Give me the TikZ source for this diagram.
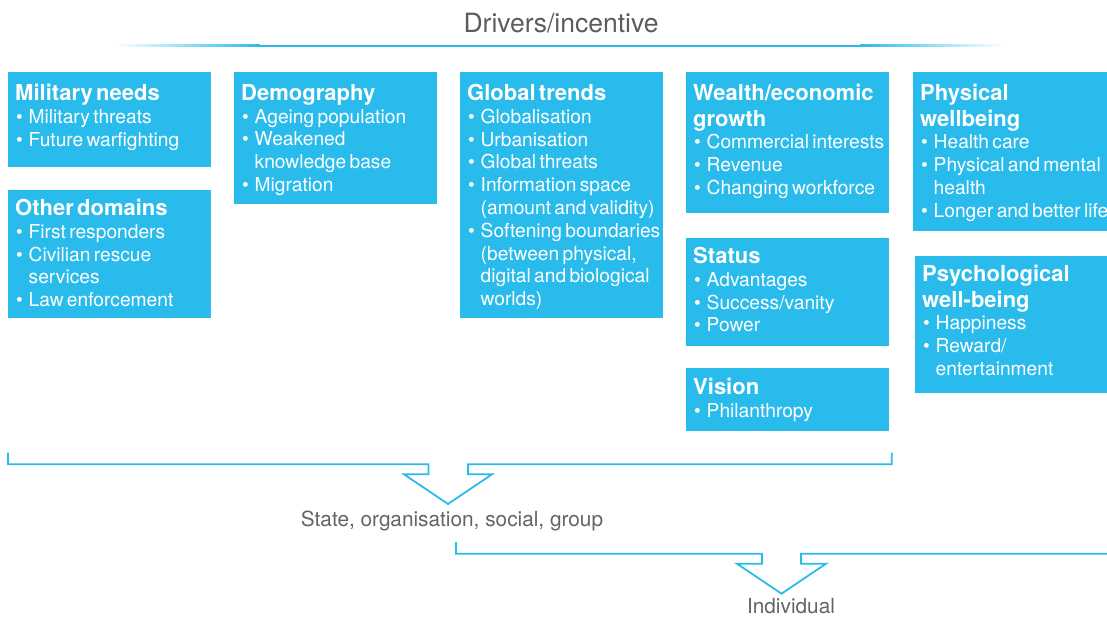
\documentclass[tikz,border=0pt]{standalone}
\usepackage{fontspec}
\setmainfont{TeX Gyre Heros}

\definecolor{panelblue}{RGB}{42,187,237}
\definecolor{captiongrey}{RGB}{100,100,100}
\definecolor{titlegrey}{RGB}{92,92,92}

\newcommand{\hd}[1]{{\fontsize{22}{25.5}\selectfont\bfseries\rule{0pt}{16pt}#1\par}}
\newcommand{\itm}[1]{{\fontsize{19.2}{22.8}\selectfont\hangindent=13.5pt\hangafter=1\noindent\makebox[13.5pt][l]{\hspace{1pt}\textbullet}#1\par}}
\newcommand{\brk}{\hfil\break}

\tikzset{
  panel/.style={fill=panelblue, inner sep=0pt, anchor=north west, minimum width=203pt},
  paneltext/.style={text=white, text width=260pt, align=left, inner sep=0pt, anchor=north west},
  bracket/.style={draw=panelblue, line width=1.8pt, line join=miter},
  caption/.style={text=captiongrey, anchor=base, font=\fontsize{20.8}{24}\selectfont}
}

\begin{document}
\begin{tikzpicture}[x=1pt,y=-1pt]
\newcommand{\panels}{mil/8/72/95/28/{\hd{Military needs}\itm{Military threats}\itm{Future warfighting}},
  oth/8/190/128/25/{\hd{Other domains}\itm{First responders}\itm{Civilian rescue\brk services}\itm{Law enforcement}},
  dem/234/72/132/28/{\hd{Demography}\itm{Ageing population}\itm{Weakened\brk knowledge base}\itm{Migration}},
  glo/460/72/246/28/{\hd{Global trends}\itm{Globalisation}\itm{Urbanisation}\itm{Global threats}\itm{Information space\brk (amount and validity)}\itm{Softening boundaries\brk (between physical,\brk digital and biological\brk worlds)}},
  wea/686/72/141/28/{\hd{Wealth/economic\brk growth}\itm{Commercial interests}\itm{Revenue}\itm{Changing workforce}},
  sta/686/238/108/25/{\hd{Status}\itm{Advantages}\itm{Success/vanity}\itm{Power}},
  vis/686/368/63/26/{\hd{Vision}\itm{Philanthropy}},
  phy/913/72/159/28/{\hd{Physical\brk wellbeing}\itm{Health care}\itm{Physical and mental\brk health}\itm{Longer and better life}},
  psy/915/256/137/25/{\hd{Psychological\brk well-being}\itm{Happiness}\itm{Reward/\brk entertainment}}}

\fill[white] (0,0) rectangle (1107,617);
\useasboundingbox (0,0) rectangle (1107,617);

% title and fading rule
\node[anchor=base, text=titlegrey, font=\fontsize{26.5}{30}\selectfont] (title) at (561,33) {Drivers/incentive};
\shade[left color=white, right color=panelblue] (113,45) rectangle (260,47);
\fill[panelblue] (259.5,45) rectangle (860.5,47);
\shade[left color=panelblue, right color=white] (860,45) rectangle (1003,47);

% panels
\foreach \n / \x / \y / \h / \dy / \txt in \panels {
  \node[panel, minimum height=\h pt] (\n) at (\x,\y) {};
  \node[paneltext] (\n-txt) at ([xshift=7pt, yshift={16pt-\dy pt}]\n.north west) {\txt};
};

% brackets
\draw[bracket] (8,452.7) -- (8,464.3) -- (428.5,464.3) -- (428.5,474.3) -- (404,474.3)
  -- (448,504) -- (492,474.3) -- (468,474.3) -- (468,464.3) -- (891.7,464.3) -- (891.7,452.7);
\node[caption] (group) at (452,526) {State, organisation, social, group};

\draw[bracket] (456,542) -- (456,553.7) -- (762,553.7) -- (762,563.7) -- (737,563.7)
  -- (781.5,593.7) -- (826,563.7) -- (801,563.7) -- (801,553.7) -- (1112,553.7);
\node[caption] (indiv) at (791,613) {Individual};

\end{tikzpicture}
\end{document}
